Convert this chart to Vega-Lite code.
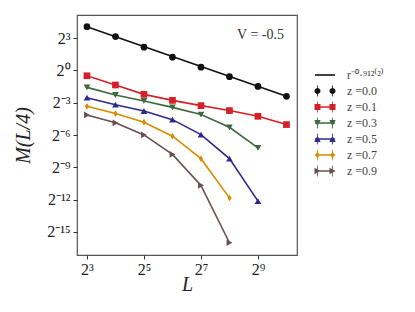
{
  "$schema": "https://vega.github.io/schema/vega-lite/v6.json",
  "width": 220,
  "height": 240,
  "autosize": {"type": "none"},
  "padding": {"left": 77, "top": 15, "right": 118, "bottom": 57},
  "background": "white",
  "title": {"text": "V  =  -0.5", "anchor": "end", "orient": "top", "frame": "group", "baseline": "top", "offset": 0, "dy": 27, "dx": -13, "font": "Liberation Serif", "fontSize": 14, "fontWeight": "normal", "color": "#333333"},
  "config": {
    "view": {"stroke": "#555555", "strokeWidth": 1.2},
    "axis": {"domain": false, "grid": false, "ticks": true, "tickSize": 4, "tickColor": "#333333", "labelFont": "Liberation Serif", "labelFontSize": 16, "labelColor": "#222222", "titleFont": "Liberation Serif", "titleFontStyle": "italic", "titleFontWeight": "normal", "titleFontSize": 20, "titleColor": "#222222"}
  },
  "data": {"values": [
    {"series": "r⁻⁰·⁹¹²⁽²⁾", "L": 8, "M": 16.8},
    {"series": "r⁻⁰·⁹¹²⁽²⁾", "L": 1024, "M": 0.1895},
    {"series": "z =0.0", "L": 8, "M": 16.8},
    {"series": "z =0.0", "L": 16, "M": 8.88},
    {"series": "z =0.0", "L": 32, "M": 4.50},
    {"series": "z =0.0", "L": 64, "M": 2.36},
    {"series": "z =0.0", "L": 128, "M": 1.24},
    {"series": "z =0.0", "L": 256, "M": 0.669},
    {"series": "z =0.0", "L": 512, "M": 0.3585},
    {"series": "z =0.0", "L": 1024, "M": 0.1895},
    {"series": "z =0.1", "L": 8, "M": 0.712},
    {"series": "z =0.1", "L": 16, "M": 0.3923},
    {"series": "z =0.1", "L": 32, "M": 0.2146},
    {"series": "z =0.1", "L": 64, "M": 0.1456},
    {"series": "z =0.1", "L": 128, "M": 0.1037},
    {"series": "z =0.1", "L": 256, "M": 0.0754},
    {"series": "z =0.1", "L": 512, "M": 0.0522},
    {"series": "z =0.1", "L": 1024, "M": 0.0306},
    {"series": "z =0.3", "L": 8, "M": 0.3368},
    {"series": "z =0.3", "L": 16, "M": 0.2059},
    {"series": "z =0.3", "L": 32, "M": 0.1406},
    {"series": "z =0.3", "L": 64, "M": 0.0928},
    {"series": "z =0.3", "L": 128, "M": 0.0583},
    {"series": "z =0.3", "L": 256, "M": 0.0257},
    {"series": "z =0.3", "L": 512, "M": 0.00685},
    {"series": "z =0.5", "L": 8, "M": 0.1732},
    {"series": "z =0.5", "L": 16, "M": 0.1103},
    {"series": "z =0.5", "L": 32, "M": 0.0733},
    {"series": "z =0.5", "L": 64, "M": 0.0421},
    {"series": "z =0.5", "L": 128, "M": 0.01606},
    {"series": "z =0.5", "L": 256, "M": 0.0034},
    {"series": "z =0.5", "L": 512, "M": 0.00022},
    {"series": "z =0.7", "L": 8, "M": 0.0994},
    {"series": "z =0.7", "L": 16, "M": 0.0621},
    {"series": "z =0.7", "L": 32, "M": 0.03565},
    {"series": "z =0.7", "L": 64, "M": 0.01448},
    {"series": "z =0.7", "L": 128, "M": 0.0034},
    {"series": "z =0.7", "L": 256, "M": 0.000271},
    {"series": "z =0.9", "L": 8, "M": 0.0571},
    {"series": "z =0.9", "L": 16, "M": 0.0342},
    {"series": "z =0.9", "L": 32, "M": 0.01573},
    {"series": "z =0.9", "L": 64, "M": 0.004456},
    {"series": "z =0.9", "L": 128, "M": 0.000608},
    {"series": "z =0.9", "L": 256, "M": 0.00001505}
  ]},
  "encoding": {
    "x": {"field": "L", "type": "quantitative",
      "scale": {"type": "log", "base": 2, "domain": [6.28, 1323], "nice": false},
      "axis": {"values": [8, 32, 128, 512], "labelExpr": "['2³','2⁵','2⁷','2⁹'][(round(log(datum.value)/LN2)-3)/2]", "title": "L", "labelPadding": 2, "titlePadding": -3}},
    "y": {"field": "M", "type": "quantitative",
      "scale": {"type": "log", "base": 2, "domain": [0.00000683, 35.75], "nice": false},
      "axis": {"values": [8, 1, 0.125, 0.015625, 0.001953125, 0.000244140625, 0.000030517578125], "labelExpr": "['2⁻¹⁵','2⁻¹²','2⁻⁹','2⁻⁶','2⁻³','2⁰','2³'][(round(log(datum.value)/LN2)+15)/3]", "title": "M(L/4)", "labelPadding": 3, "titlePadding": 13}}
  },
  "layer": [
    {
      "transform": [{"filter": "datum.series != 'z =0.0'"}],
      "mark": {"type": "line", "strokeWidth": 1.6},
      "encoding": {
        "stroke": {"field": "series", "type": "nominal",
          "scale": {"domain": ["r⁻⁰·⁹¹²⁽²⁾", "z =0.1", "z =0.3", "z =0.5", "z =0.7", "z =0.9"],
                    "range": ["#111111", "#d62027", "#3b6a3b", "#2d2a8a", "#d98c00", "#6b4e4e"]},
          "legend": null}
      }
    },
    {"transform": [{"filter": "datum.series == 'z =0.0'"}], "mark": {"type": "point", "filled": true, "opacity": 1, "size": 45, "shape": "circle", "color": "#111111"}},
    {"transform": [{"filter": "datum.series == 'z =0.1'"}], "mark": {"type": "point", "filled": true, "opacity": 1, "size": 45, "shape": "square", "color": "#d62027"}},
    {"transform": [{"filter": "datum.series == 'z =0.3'"}], "mark": {"type": "point", "filled": true, "opacity": 1, "size": 45, "shape": "triangle-down", "color": "#3b6a3b"}},
    {"transform": [{"filter": "datum.series == 'z =0.5'"}], "mark": {"type": "point", "filled": true, "opacity": 1, "size": 45, "shape": "triangle-up", "color": "#2d2a8a"}},
    {"transform": [{"filter": "datum.series == 'z =0.7'"}], "mark": {"type": "point", "filled": true, "opacity": 1, "size": 45, "shape": "M0,-1L0.62,0L0,1L-0.62,0Z", "color": "#d98c00"}},
    {"transform": [{"filter": "datum.series == 'z =0.9'"}], "mark": {"type": "point", "filled": true, "opacity": 1, "size": 45, "shape": "triangle-right", "color": "#6b4e4e"}},
    {
      "transform": [{"filter": "false"}],
      "mark": {"type": "point", "filled": true},
      "encoding": {
        "color": {"field": "series", "type": "nominal",
          "scale": {"domain": ["r⁻⁰·⁹¹²⁽²⁾", "z =0.0", "z =0.1", "z =0.3", "z =0.5", "z =0.7", "z =0.9"],
                    "range": ["#111111", "#111111", "#d62027", "#3b6a3b", "#2d2a8a", "#d98c00", "#6b4e4e"]},
          "legend": {"orient": "none", "legendX": 238, "legendY": 50, "title": null, "symbolSize": 400, "symbolStrokeWidth": 0, "symbolOpacity": 1, "labelFont": "Liberation Serif", "labelFontSize": 12, "labelColor": "#444444", "labelOffset": 12, "rowPadding": -0.5, "padding": 0}},
        "shape": {"field": "series", "type": "nominal",
          "scale": {"domain": ["r⁻⁰·⁹¹²⁽²⁾", "z =0.0", "z =0.1", "z =0.3", "z =0.5", "z =0.7", "z =0.9"],
                    "range": [
                      "M-1,-0.08H1V0.08H-1Z",
                      "M-1.05,0A0.3,0.3 0 1,1 -0.45,0A0.3,0.3 0 1,1 -1.05,0Z M-0.79,-0.55H-0.71V0.55H-0.79Z M0.45,0A0.3,0.3 0 1,1 1.05,0A0.3,0.3 0 1,1 0.45,0Z M0.71,-0.55H0.79V0.55H0.71Z",
                      "M-1,-0.08H1V0.08H-1Z M-1.05,-0.3H-0.45V0.3H-1.05Z M0.45,-0.3H1.05V0.3H0.45Z M-0.79,-0.55H-0.71V0.55H-0.79Z M0.71,-0.55H0.79V0.55H0.71Z",
                      "M-1,-0.08H1V0.08H-1Z M-1.07,-0.3H-0.43L-0.75,0.32Z M0.43,-0.3H1.07L0.75,0.32Z M-0.79,-0.55H-0.71V0.55H-0.79Z M0.71,-0.55H0.79V0.55H0.71Z",
                      "M-1,-0.08H1V0.08H-1Z M-0.75,-0.32L-0.43,0.3H-1.07Z M0.75,-0.32L1.07,0.3H0.43Z M-0.79,-0.55H-0.71V0.55H-0.79Z M0.71,-0.55H0.79V0.55H0.71Z",
                      "M-1,-0.08H1V0.08H-1Z M-0.75,-0.38L-0.55,0L-0.75,0.38L-0.95,0Z M0.75,-0.38L0.95,0L0.75,0.38L0.55,0Z M-0.79,-0.55H-0.71V0.55H-0.79Z M0.71,-0.55H0.79V0.55H0.71Z",
                      "M-1,-0.08H1V0.08H-1Z M-1.05,-0.32L-0.45,0L-1.05,0.32Z M0.45,-0.32L1.05,0L0.45,0.32Z M-0.79,-0.55H-0.71V0.55H-0.79Z M0.71,-0.55H0.79V0.55H0.71Z"
                    ]},
          "legend": {"orient": "none", "legendX": 238, "legendY": 50, "title": null, "symbolSize": 400, "symbolStrokeWidth": 0, "symbolOpacity": 1, "labelFont": "Liberation Serif", "labelFontSize": 12, "labelColor": "#444444", "labelOffset": 12, "rowPadding": -0.5, "padding": 0}
        }
      }
    }
  ]
}
